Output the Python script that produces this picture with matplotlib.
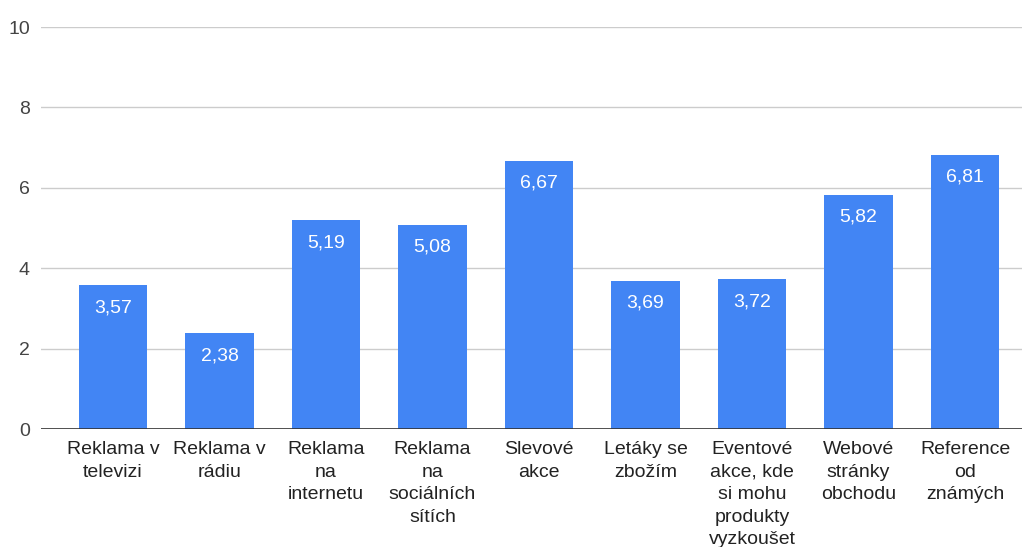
import matplotlib
matplotlib.use("Agg")
import matplotlib.pyplot as plt

categories = [
    "Reklama v\ntelevizi",
    "Reklama v\nrádiu",
    "Reklama\nna\ninternetu",
    "Reklama\nna\nsociálních\nsítích",
    "Slevové\nakce",
    "Letáky se\nzbožím",
    "Eventové\nakce, kde\nsi mohu\nprodukty\nvyzkoušet",
    "Webové\nstránky\nobchodu",
    "Reference\nod\nznámých",
]
values = [3.57, 2.38, 5.19, 5.08, 6.67, 3.69, 3.72, 5.82, 6.81]
yticks = [0, 2, 4, 6, 8, 10]

plt.rcParams["font.family"] = ["Liberation Sans", "DejaVu Sans"]

W, H = 1022, 547
fig = plt.figure(figsize=(W / 100, H / 100), dpi=100)
left, right, top, bottom = 41, 1022, 27, 429
ax = fig.add_axes([left / W, 1 - bottom / H, (right - left) / W, (bottom - top) / H])

bar_color = "#4285F4"
bar_w = 0.64
x = list(range(len(values)))
ax.bar(x, values, width=bar_w, color=bar_color, zorder=3)

for xi, v in zip(x, values):
    ax.annotate(f"{v:.2f}".replace(".", ","), (xi, v), xytext=(0, -16),
                textcoords="offset points", ha="center", va="center",
                color="white", fontsize=14, zorder=4)

ax.set_xlim(-0.676, 8.535)
ax.set_ylim(0, 10)
ax.set_yticks(yticks)
ax.set_yticklabels([str(t) for t in yticks], fontsize=14, color="#444444")
ax.set_xticks(x)
ax.set_xticklabels(categories, fontsize=14, color="#222222", linespacing=1.42)
ax.tick_params(axis="both", length=0)
ax.tick_params(axis="y", pad=8)
ax.tick_params(axis="x", pad=9)

ax.grid(axis="y", color="#cccccc", linewidth=1, zorder=0)
ax.axhline(0, color="#333333", linewidth=1.2, zorder=5)
for s in ax.spines.values():
    s.set_visible(False)

fig.savefig("out.png", dpi=100, facecolor="white")
